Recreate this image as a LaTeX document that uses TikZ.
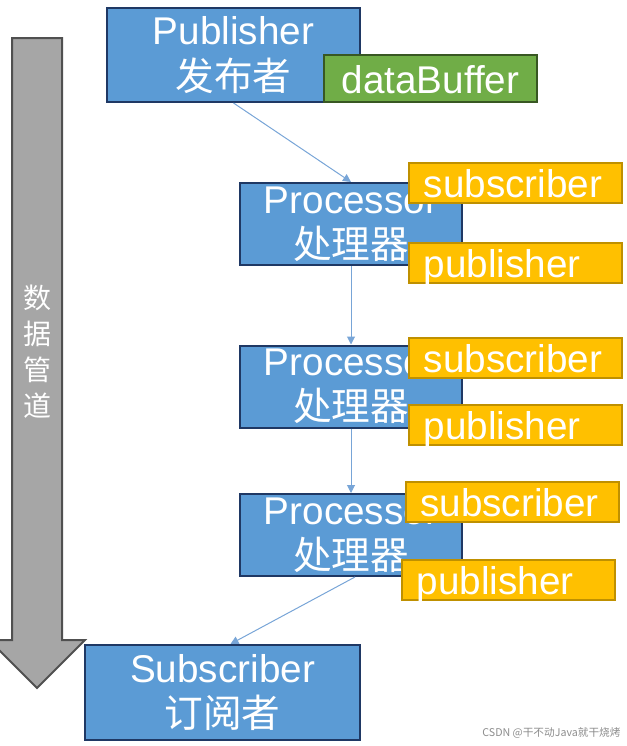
\documentclass[tikz,border=0pt]{standalone}
\usepackage{fontspec}
\setmainfont{Liberation Sans}
\newfontfamily\cjk{Noto Sans CJK SC}
\usetikzlibrary{arrows.meta}

\definecolor{boxblue}{RGB}{91,155,213}
\definecolor{boxedge}{RGB}{31,56,100}
\definecolor{bufgreen}{RGB}{112,173,71}
\definecolor{bufedge}{RGB}{56,87,35}
\definecolor{portorange}{RGB}{255,192,0}
\definecolor{portedge}{RGB}{191,144,0}
\definecolor{pipegray}{RGB}{166,166,166}
\definecolor{pipeedge}{RGB}{80,80,80}
\definecolor{flowblue}{RGB}{120,165,215}

\tikzset{every picture/.style={line width=0.75pt}}
\tikzset{
  bluebox/.style={draw=boxedge, fill=boxblue, line width=1.5pt, text=white, inner sep=0pt,
    align=center, font=\fontsize{29}{34}\selectfont},
  portbox/.style={draw=portedge, fill=portorange, line width=1.5pt, text=white, inner ysep=0pt,
    inner xsep=11pt, text width=137.75pt, align=left, minimum height=30pt, text height=24pt,
    text depth=2pt, font=\fontsize{29}{34}\selectfont},
  flow/.style={draw=flowblue, line width=0.75pt, -{Triangle[length=6pt,width=6pt]}},
}

\begin{document}
\begin{tikzpicture}[x=0.75pt,y=0.75pt,yscale=-1,xscale=1]

\useasboundingbox (0,0) rectangle (626,746);

% Pipe arrow
\draw [fill=pipegray, draw=pipeedge, line width=1.5pt] (12,38) -- (62,38) -- (62,640) -- (85,640) -- (37,688) -- (-11,640) -- (12,640) -- cycle ;
\node [text=white, align=center, font=\cjk\fontsize{21}{27}\selectfont] (pipe) at (37,352) {数\\据\\管\\道};

% Publisher
\node [bluebox, minimum width=189.75pt, minimum height=70.5pt] (pub) at (233.5,55) {Publisher\\{\cjk 发布者}};
\node [bluebox, draw=bufedge, fill=bufgreen, minimum width=159.75pt, minimum height=35.25pt, text height=24pt, text depth=2pt] (buf) at (430.5,78.5) {dataBuffer};

% Processors
\node [bluebox, minimum width=166.5pt, minimum height=61.5pt] (proc1) at (351,224) {Processor\\{\cjk 处理器}};
\node [portbox] (sub1) at (515.5,183) {subscriber};
\node [portbox] (pub1) at (515.5,263) {publisher};

\node [bluebox, minimum width=166.5pt, minimum height=61.5pt] (proc2) at (351,386.5) {Processor\\{\cjk 处理器}};
\node [portbox] (sub2) at (515.5,357.5) {subscriber};
\node [portbox] (pub2) at (515.5,424.5) {publisher};

\node [bluebox, minimum width=166.5pt, minimum height=61.5pt] (proc3) at (351,535) {Processor\\{\cjk 处理器}};
\node [portbox] (sub3) at (512,502) {subscriber};
\node [portbox] (pub3) at (508.5,580) {publisher};

% Subscriber
\node [bluebox, minimum width=206.25pt, minimum height=71.25pt] (subs) at (222.5,692.5) {Subscriber\\{\cjk 订阅者}};

% Watermark
\node [anchor=east, text=black!45, inner sep=0pt, font=\cjk\fontsize{8}{8}\selectfont] (mark) at (621,733) {CSDN @干不动Java就干烧烤};

% Connection
\draw [flow] (pub.south) -- (proc1.north) ;
\draw [flow] (proc1.south) -- (proc2.north) ;
\draw [flow] (proc2.south) -- (proc3.north) ;
\draw [flow] ([xshift=3pt]proc3.south) -- ([xshift=6pt]subs.north) ;

\end{tikzpicture}
\end{document}
